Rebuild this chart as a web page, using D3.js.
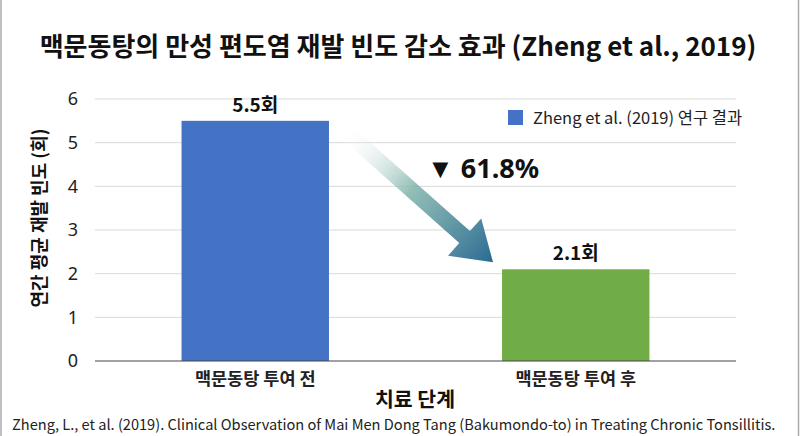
<!DOCTYPE html>
<meta charset="utf-8">
<style>
body {
  margin: 0;
  font-family: "Noto Sans CJK KR", "Noto Sans", sans-serif;
  background: #fff;
}
svg { display: block; }
.grid line { stroke: #d9d9d9; stroke-width: 1px; }
.tick text { fill: #222; }
</style>
<body>
<script src="https://d3js.org/d3.v7.min.js"></script>
<script>

let categories = ["맥문동탕 투여 전", "맥문동탕 투여 후"];
let values = [5.5, 2.1];
let barColors = ["#4472c4", "#70ad47"];
let valueLabels = ["5.5회", "2.1회"];
let yTicks = [0, 1, 2, 3, 4, 5, 6];
let seriesName = "Zheng et al. (2019) 연구 결과";
let reduction = "▼ 61.8%";

let width = 800,
    height = 436;

let margin = {top: 99, right: 64, bottom: 75, left: 95};

let svg = d3.select("body")
	.append("svg")
	.attr("width", width)
	.attr("height", height);

// side border lines
svg.append("line")
	.attr("x1", 1).attr("x2", 1).attr("y1", 0).attr("y2", height)
	.attr("stroke", "#aaa").attr("stroke-width", 1.5);
svg.append("line")
	.attr("x1", width - 1.5).attr("x2", width - 1.5).attr("y1", 0).attr("y2", height)
	.attr("stroke", "#aaa").attr("stroke-width", 1.5);

let x = d3.scaleBand()
	.domain(categories)
	.range([margin.left, width - margin.right])
	.paddingInner(0.54)
	.paddingOuter(0.27);

let y = d3.scaleLinear()
	.domain([0, 6])
	.range([height - margin.bottom, margin.top]);

// gridlines
svg.append("g")
	.attr("class", "grid")
	.selectAll("line")
	.data(yTicks.filter(d => d > 0))
	.enter().append("line")
	.attr("x1", margin.left)
	.attr("x2", width - margin.right)
	.attr("y1", d => y(d))
	.attr("y2", d => y(d));

// y axis labels
let yAxis = svg.append("g")
	.attr("transform", "translate(" + margin.left + ",0)")
	.call(d3.axisLeft(y).tickValues(yTicks).tickFormat(d3.format("d")).tickSize(0).tickPadding(17));
yAxis.select(".domain").remove();
yAxis.selectAll("text")
	.style("font-size", "18px")
	.style("font-family", "Noto Sans, sans-serif");

// bars
svg.append("g")
	.selectAll("rect")
	.data(values)
	.enter().append("rect")
	.attr("x", (d, i) => x(categories[i]))
	.attr("y", d => y(d))
	.attr("width", x.bandwidth())
	.attr("height", d => y(0) - y(d))
	.attr("fill", (d, i) => barColors[i]);

// zero line
svg.append("line")
	.attr("x1", margin.left)
	.attr("x2", width - margin.right)
	.attr("y1", y(0))
	.attr("y2", y(0))
	.attr("stroke", "#444")
	.attr("stroke-width", 1.2);

// value labels
svg.append("g")
	.selectAll("text")
	.data(values)
	.enter().append("text")
	.attr("x", (d, i) => x(categories[i]) + x.bandwidth() / 2)
	.attr("y", d => y(d) - 9)
	.attr("text-anchor", "middle")
	.style("font-size", "19px")
	.style("font-weight", "bold")
	.attr("fill", "#111")
	.text((d, i) => valueLabels[i]);

// x axis category labels
let xAxis = svg.append("g")
	.attr("transform", "translate(0," + y(0) + ")")
	.call(d3.axisBottom(x).tickSize(0).tickPadding(12));
xAxis.select(".domain").remove();
xAxis.selectAll("text")
	.style("font-size", "17.5px")
	.style("font-weight", "bold")
	.style("font-family", "Noto Sans CJK KR, sans-serif")
	.attr("fill", "#111");

// arrow between bars
let defs = svg.append("defs");
let ax0 = x(categories[0]) + x.bandwidth() + 16,
    ay0 = y(values[0]) + 10,
    ax1 = x(categories[1]) - 9,
    ay1 = y(values[1]) - 7;

let grad = defs.append("linearGradient")
	.attr("id", "arrowGrad")
	.attr("gradientUnits", "userSpaceOnUse")
	.attr("x1", ax0).attr("y1", ay0)
	.attr("x2", ax1).attr("y2", ay1);
grad.append("stop").attr("offset", "0%").attr("stop-color", "#ffffff").attr("stop-opacity", 0);
grad.append("stop").attr("offset", "45%").attr("stop-color", "#7fb3aa").attr("stop-opacity", 0.85);
grad.append("stop").attr("offset", "100%").attr("stop-color", "#2a6a92");

let ang = Math.atan2(ay1 - ay0, ax1 - ax0);
let len = Math.hypot(ax1 - ax0, ay1 - ay0);
let shaftW = 8, headW = 25, headL = 38;
let pts = [
	[0, -shaftW], [len - headL, -shaftW], [len - headL, -headW],
	[len, 0], [len - headL, headW], [len - headL, shaftW], [0, shaftW]
].map(p => [
	ax0 + p[0] * Math.cos(ang) - p[1] * Math.sin(ang),
	ay0 + p[0] * Math.sin(ang) + p[1] * Math.cos(ang)
]);
svg.append("polygon")
	.attr("points", pts.map(p => p.join(",")).join(" "))
	.attr("fill", "url(#arrowGrad)");

svg.append("text")
	.attr("x", 427)
	.attr("y", y(4.2))
	.style("font-size", "27px")
	.style("font-weight", "bold")
	.style("font-family", "Noto Sans, sans-serif")
	.attr("fill", "#111")
	.text(reduction);

// legend
let legend = svg.append("g")
	.attr("transform", "translate(508,110)");
legend.append("rect")
	.attr("width", 15)
	.attr("height", 15)
	.attr("fill", barColors[0]);
legend.append("text")
	.attr("x", 25)
	.attr("y", 13.5)
	.style("font-size", "16.5px")
	.attr("fill", "#222")
	.text(seriesName);

// title
svg.append("text")
	.attr("x", 398)
	.attr("y", 56)
	.attr("text-anchor", "middle")
	.style("font-size", "26px")
	.style("font-weight", "bold")
	.attr("fill", "#111")
	.text("맥문동탕의 만성 편도염 재발 빈도 감소 효과 (Zheng et al., 2019)");

// axis titles
svg.append("text")
	.attr("x", 415)
	.attr("y", 407)
	.attr("text-anchor", "middle")
	.style("font-size", "20.5px")
	.style("font-weight", "bold")
	.attr("fill", "#111")
	.text("치료 단계");

svg.append("text")
	.attr("transform", "translate(46," + 218 + ") rotate(-90)")
	.attr("text-anchor", "middle")
	.style("font-size", "18px")
	.style("font-weight", "bold")
	.attr("fill", "#111")
	.text("연간 평균 재발 빈도 (회)");

// source note
svg.append("text")
	.attr("x", 12)
	.attr("y", 430)
	.style("font-size", "14.6px")
	.attr("fill", "#222")
	.text("Zheng, L., et al. (2019). Clinical Observation of Mai Men Dong Tang (Bakumondo-to) in Treating Chronic Tonsillitis.");

</script>
</body>
